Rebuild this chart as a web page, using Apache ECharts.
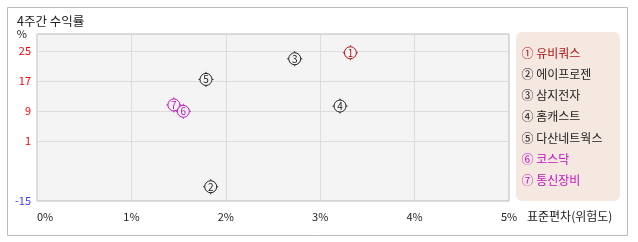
<!DOCTYPE html>
<html>
<head>
<meta charset="utf-8">
<script src="https://cdn.jsdelivr.net/npm/echarts@6/dist/echarts.min.js"></script>
<style>
html,body{margin:0;padding:0;background:#fff;}
#chart{width:638px;height:242px;}
</style>
</head>
<body>
<div id="chart"></div>
<script>
// ---- data ----
const names = ['유비쿼스', '에이프로젠', '삼지전자', '홈캐스트', '다산네트웍스', '코스닥', '통신장비'];
const marks = ['①', '②', '③', '④', '⑤', '⑥', '⑦'];
const stdDev = [3.32, 1.84, 2.73, 3.21, 1.79, 1.55, 1.45];   // 표준편차(위험도), %
const returns = [24.5, -11.2, 22.9, 10.3, 17.4, 8.9, 10.6];  // 4주간 수익률, %
const xTicks = [0, 1, 2, 3, 4, 5];
const yTicks = [-15, 1, 9, 17, 25];
const xName = '표준편차(위험도)';
const yName = '%';
const titleText = '4주간 수익률';

// ---- styles ----
const colors = ['#b01515', '#222222', '#222222', '#222222', '#222222', '#c012c0', '#c012c0'];
const FONT = '"Noto Sans CJK KR", "Noto Sans", sans-serif';
const markerPath = 'path://M7.5,1.5A6,6,0,1,1,7.49,1.5Z M7.5,0L7.5,1.5 M7.5,13.5L7.5,15 M0,7.5L1.5,7.5 M13.5,7.5L15,7.5';

const chart = echarts.init(document.getElementById('chart'), null, {renderer: 'canvas'});

const series = names.map((n, i) => ({
  name: n,
  type: 'scatter',
  z: i === 5 ? 3 : 2,
  symbol: markerPath,
  symbolSize: 15,
  symbolKeepAspect: true,
  itemStyle: {color: '#f4f4f4', borderColor: colors[i], borderWidth: 1, opacity: 1},
  label: {
    show: true, position: 'inside', formatter: String(i + 1),
    fontSize: 10, fontFamily: FONT, color: colors[i]
  },
  emphasis: {disabled: true},
  data: [[stdDev[i], returns[i]]]
}));

chart.setOption({
  animation: false,
  textStyle: {fontFamily: FONT},
  title: {
    text: titleText, left: 17, top: 15, padding: 0,
    textStyle: {fontSize: 12.5, fontWeight: 'normal', color: '#222', fontFamily: FONT}
  },
  graphic: [
    {type: 'rect', z: 0, shape: {x: 7.5, y: 7.5, width: 620, height: 228},
     style: {fill: 'none', stroke: '#bbbbbb', lineWidth: 1}},
    {type: 'rect', z: 0, shape: {x: 516, y: 32, width: 104, height: 169, r: 6},
     style: {fill: '#f5e8e1'}},
    {type: 'text', z: 5, x: 527, y: 216.5,
     style: {text: xName, fill: '#222', font: '12px ' + FONT, verticalAlign: 'middle', align: 'left'}}
  ],
  legend: {
    orient: 'vertical', left: 516.5, top: 47, padding: 0,
    icon: 'none', itemWidth: 0, itemHeight: 12, itemGap: 9.3,
    selectedMode: false,
    textStyle: {fontSize: 12, lineHeight: 12, fontFamily: FONT},
    formatter: n => marks[names.indexOf(n)] + ' ' + n,
    data: names.map((n, i) => ({name: n, textStyle: {color: colors[i]}}))
  },
  grid: {
    left: 37, top: 34, right: 129, bottom: 41,
    show: true, backgroundColor: '#f4f4f4', borderColor: '#b8b8b8', borderWidth: 1
  },
  xAxis: {
    type: 'value', min: xTicks[0], max: xTicks[xTicks.length - 1], interval: 1,
    axisLine: {show: false},
    axisTick: {show: false},
    axisLabel: {
      formatter: '{value}%', fontSize: 11, color: '#222', margin: 10,
      alignMinLabel: 'left', fontFamily: FONT
    },
    splitLine: {show: true, lineStyle: {color: '#dcdcdc', width: 1}}
  },
  yAxis: {
    type: 'value', min: yTicks[0], max: 29.5,
    name: yName, nameLocation: 'end', nameGap: 0,
    nameTextStyle: {fontSize: 11, color: '#222', align: 'right', verticalAlign: 'middle', padding: [0, 10, 0, 0], fontFamily: FONT},
    axisLine: {show: false},
    axisTick: {show: false, customValues: yTicks},
    axisLabel: {
      customValues: yTicks, fontSize: 11, margin: 6, fontFamily: FONT,
      color: v => (v < 0 ? '#3a3aff' : '#ff0000')
    },
    splitLine: {show: true, lineStyle: {color: '#dcdcdc', width: 1}}
  },
  series: series
});
</script>
</body>
</html>
